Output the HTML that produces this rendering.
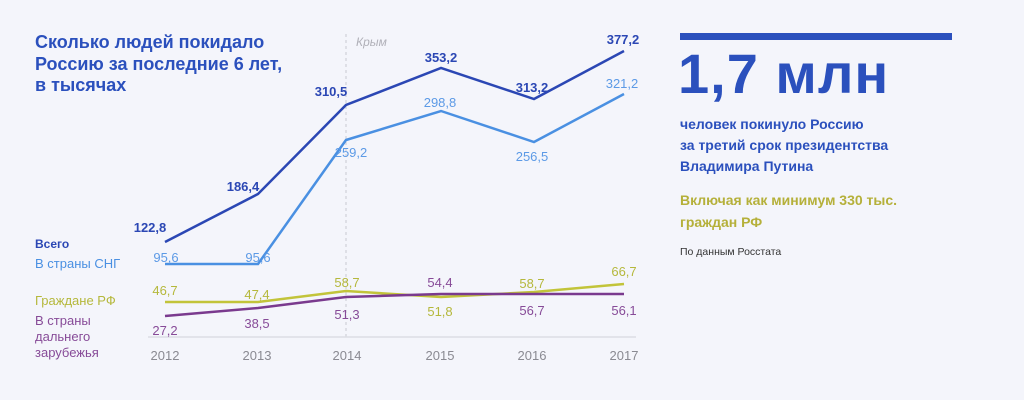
<!DOCTYPE html>
<html><head><meta charset="utf-8"><style>
html,body{margin:0;padding:0;background:#f4f5fb;width:1024px;height:400px;overflow:hidden}
svg{display:block}
text{font-family:"Liberation Sans",sans-serif}
</style></head><body>
<svg width="1024" height="400" viewBox="0 0 1024 400">
<rect width="1024" height="400" fill="#f4f5fb"/>
<g font-size="18" font-weight="bold" fill="#2b50bd">
<text x="35" y="48">Сколько людей покидало</text>
<text x="35" y="70">Россию за последние 6 лет,</text>
<text x="35" y="91">в тысячах</text>
</g>
<line x1="346" y1="34" x2="346" y2="337" stroke="#c8c9d2" stroke-dasharray="3,3"/>
<text x="356" y="46" font-size="12" font-style="italic" fill="#b0b0b8" font-family="Liberation Serif,serif">Крым</text>
<line x1="148" y1="337" x2="636" y2="337" stroke="#dcdde4" stroke-width="1.5"/>
<g font-size="13" fill="#8a8a92" text-anchor="middle">
<text x="165" y="360">2012</text><text x="257" y="360">2013</text><text x="347" y="360">2014</text>
<text x="440" y="360">2015</text><text x="532" y="360">2016</text><text x="624" y="360">2017</text>
</g>
<g fill="none" stroke-width="2.5" stroke-linejoin="miter">
<polyline points="165,242 258,194 346,105 441,68 534,99 624,51" stroke="#2b47b4"/>
<polyline points="165,264 258,264 346,140 441,111 534,142 624,94" stroke="#4a90e2"/>
<polyline points="165,302 258,302 346,291 441,297 534,292 624,284" stroke="#c2c43a"/>
<polyline points="165,316 258,308 346,297 441,294 534,294 624,294" stroke="#7a3a8e"/>
</g>
<g font-size="13" text-anchor="middle">
<g fill="#2b47b4" font-weight="bold">
<text x="150" y="232">122,8</text><text x="243" y="191">186,4</text><text x="331" y="96">310,5</text>
<text x="441" y="62">353,2</text><text x="532" y="92">313,2</text><text x="623" y="44">377,2</text>
</g>
<g fill="#5c9ae6">
<text x="166" y="262">95,6</text><text x="258" y="262">95,6</text><text x="351" y="157">259,2</text>
<text x="440" y="107">298,8</text><text x="532" y="161">256,5</text><text x="622" y="88">321,2</text>
</g>
<g fill="#b5b83c">
<text x="165" y="295">46,7</text><text x="257" y="299">47,4</text><text x="347" y="287">58,7</text>
<text x="440" y="316">51,8</text><text x="532" y="288">58,7</text><text x="624" y="276">66,7</text>
</g>
<g fill="#874b98">
<text x="165" y="335">27,2</text><text x="257" y="328">38,5</text><text x="347" y="319">51,3</text>
<text x="440" y="287">54,4</text><text x="532" y="315">56,7</text><text x="624" y="315">56,1</text>
</g>
</g>
<text x="35" y="248" font-size="12" font-weight="bold" fill="#2b47b4">Всего</text>
<text x="35" y="268" font-size="13" fill="#4a90e2">В страны СНГ</text>
<text x="35" y="305" font-size="13" fill="#b5b83c">Граждане РФ</text>
<g font-size="13" fill="#874b98">
<text x="35" y="325">В страны</text><text x="35" y="341">дальнего</text><text x="35" y="357">зарубежья</text>
</g>
<rect x="680" y="33" width="272" height="7" fill="#2b50bd"/>
<text x="678" y="93" font-size="56" font-weight="900" fill="#2b50bd" style="letter-spacing:1px">1,7 млн</text>
<g font-size="14" font-weight="bold" fill="#2b50bd">
<text x="680" y="129">человек покинуло Россию</text>
<text x="680" y="150">за третий срок президентства</text>
<text x="680" y="171">Владимира Путина</text>
</g>
<g font-size="14" font-weight="bold" fill="#b5b03a">
<text x="680" y="205">Включая как минимум 330 тыс.</text>
<text x="680" y="227">граждан РФ</text>
</g>
<text x="680" y="255" font-size="10.5" fill="#333">По данным Росстата</text>
</svg>
</body></html>
